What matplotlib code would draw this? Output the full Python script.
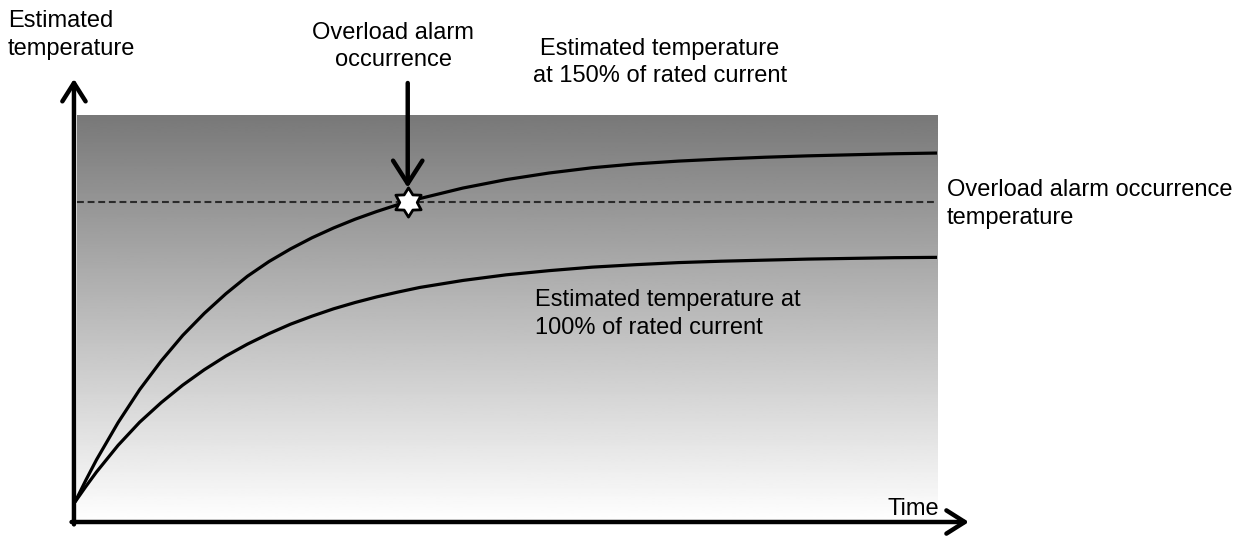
import numpy as np
import matplotlib
matplotlib.use("Agg")
import matplotlib.pyplot as plt
from matplotlib.path import Path

# Estimated motor temperature (arbitrary units) versus time
time = [0, 0.125, 0.25, 0.5, 0.75, 1, 1.25, 1.5, 1.75, 2, 2.25, 2.5, 2.75, 3,
        3.25, 3.5, 3.75, 4, 4.5, 5, 5.5, 6, 6.5, 7, 7.5, 8, 8.5, 9, 9.5, 10]
temp_150 = [0, 6.2, 12.1, 22.7, 32.1, 40.3, 47.6, 53.9, 59.5, 64.5, 68.7, 72.3,
            75.5, 78.3, 80.8, 83.0, 85.0, 86.7, 89.7, 92.1, 94.0, 95.5, 96.6,
            97.4, 98.0, 98.5, 98.9, 99.2, 99.5, 99.7]
temp_100 = [0, 4.4, 8.6, 16.2, 22.8, 28.4, 33.4, 37.8, 41.7, 45.1, 48.1, 50.8,
            53.1, 55.2, 57.0, 58.6, 60.0, 61.3, 63.3, 64.9, 66.1, 67.1, 67.8,
            68.4, 68.8, 69.1, 69.4, 69.6, 69.8, 69.9]
alarm_temp = 85.7
alarm_time = 3.86

W, H = 1249, 536
plt.rcParams['font.family'] = ['Liberation Sans', 'DejaVu Sans']
FS = 17

fig = plt.figure(figsize=(W / 100, H / 100), dpi=100)
ax = fig.add_axes([75 / W, 1 - 522 / H, 862 / W, 407 / H])
ax.axis('off')

# shaded background, dark at the top fading to white
grad = np.linspace(120 / 255, 1.0, 256).reshape(-1, 1)
ax.imshow(grad, cmap='gray', vmin=0, vmax=1, aspect='auto',
          extent=(0.02, 10, -5.714, 110.571), origin='upper', zorder=0)
ax.set_xlim(0, 10)
ax.set_ylim(-5.714, 110.571)

# alarm threshold
ax.plot([0.02, 10], [alarm_temp, alarm_temp], color='#2a2a2a', lw=1.5,
        dashes=(3.3, 1.8), zorder=2)

# temperature curves
ax.plot(time, temp_150, color='black', lw=2.3, zorder=3,
        solid_capstyle='butt', solid_joinstyle='round')
ax.plot(time, temp_100, color='black', lw=2.3, zorder=3,
        solid_capstyle='butt', solid_joinstyle='round')

# axes with arrow heads
arrow_kw = dict(arrowstyle='->,head_length=0.6,head_width=0.38', lw=3.2,
                color='black', mutation_scale=22, shrinkA=0, shrinkB=0)
ax.annotate('', xy=(-0.012, 120.9), xytext=(-0.012, -6.4),
            arrowprops=arrow_kw, annotation_clip=False, zorder=5)
ax.annotate('', xy=(10.37, -5.714), xytext=(-0.04, -5.714),
            arrowprops=arrow_kw, annotation_clip=False, zorder=5)

# alarm point and pointer arrow
ang = np.pi / 2 + np.arange(12) * np.pi / 6
rad = np.where(np.arange(12) % 2 == 0, 1.0, 0.6)
verts = np.column_stack([rad * np.cos(ang), rad * np.sin(ang)])
verts = np.vstack([verts, verts[:1]])
hexagram = Path(verts, closed=True)
ax.plot([alarm_time], [alarm_temp], marker=hexagram, ms=21, mfc='white',
        mec='black', mew=2.0, zorder=6)
ax.annotate('', xy=(alarm_time, alarm_temp + 4.1),
            xytext=(alarm_time, (502 - 83) / 3.5),
            arrowprops=dict(arrowstyle='->,head_length=0.75,head_width=0.48',
                            lw=3.2, color='black', mutation_scale=22,
                            shrinkA=0, shrinkB=0),
            annotation_clip=False, zorder=6)


def label(lines, x, y0, ha='left', pitch=27.5):
    for i, s in enumerate(lines):
        fig.text(x / W, 1 - (y0 + i * pitch) / H, s, ha=ha, va='baseline',
                 fontsize=FS, color='black')


label(['Estimated', 'temperature'], 8, 27)
label(['Overload alarm', 'occurrence'], 393, 39, ha='center')
label(['Estimated temperature', 'at 150% of rated current'], 660, 55, ha='center')
label(['Overload alarm occurrence', 'temperature'], 947, 196)
label(['Estimated temperature at', '100% of rated current'], 535, 306)
label(['Time'], 888, 515)

fig.savefig('out.png', dpi=100)
